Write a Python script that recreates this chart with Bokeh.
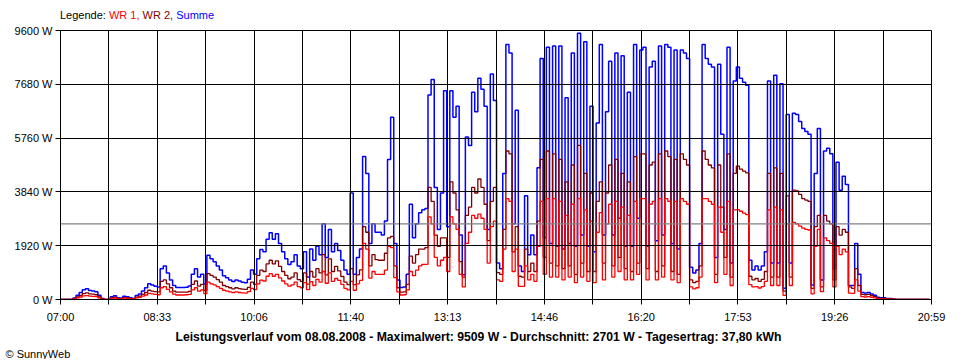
from bokeh.plotting import figure
from bokeh.layouts import column
from bokeh.models import (Range1d, FixedTicker, PrintfTickFormatter,
                          CustomJSTickFormatter, Span, Title, Div)
from bokeh.embed import file_html
from bokeh.resources import INLINE

# ---------------- data ----------------
interval_min = 3          # one sample every 3 minutes, starting 07:00
day_span_min = 839        # 07:00 .. 20:59

summe = [
    0, 0, 0, 0, 50, 150, 250, 350, 380, 320,
    300, 280, 150, 40, 0, 0, 100, 130, 60, 50,
    120, 100, 60, 40, 140, 200, 300, 420, 560, 520,
    470, 450, 1100, 1200, 950, 700, 500, 430, 430, 430,
    440, 480, 900, 1100, 800, 900, 550, 1580, 1450, 1350,
    1200, 1050, 850, 780, 700, 640, 700, 660, 620, 600,
    720, 1050, 900, 1450, 1780, 1700, 2150, 2380, 2150, 2350,
    2000, 1700, 1450, 1250, 1350, 1600, 1200, 1100, 1700, 800,
    1800, 1400, 1900, 1600, 2700, 1500, 2500, 1700, 2000, 1750,
    1400, 1050, 900, 3800, 900, 1500, 1800, 5100, 4500, 2000,
    2700, 2400, 2400, 2300, 2800, 5000, 6500, 2000, 700, 430,
    450, 900, 3400, 2200, 2700, 3100, 3200, 3250, 7300, 7850,
    4000, 2500, 3800, 7450, 2600, 7450, 6500, 6900, 2300, 880,
    5800, 5500, 7400, 6700, 7900, 7500, 6900, 2500, 8050, 7100,
    1300, 1100, 4500, 9100, 8800, 2700, 6750, 1200, 1000, 3700,
    1600, 2300, 1600, 4700, 8600, 2200, 9000, 2000, 9050, 1900,
    9050, 1800, 7200, 2000, 8800, 1900, 9500, 2300, 9200, 1900,
    6900, 1700, 6300, 9100, 2300, 6700, 8500, 2300, 8800, 2900,
    8700, 1900, 7400, 1900, 9100, 2900, 8900, 9000, 1900, 8300,
    8500, 2100, 9050, 2300, 9100, 9000, 2000, 8900, 1800, 8900,
    8800, 8600, 1150, 950, 1050, 2000, 9100, 8600, 8400, 8300,
    1500, 8400, 5900, 2500, 9000, 1300, 7800, 8300, 7900, 7750,
    7650, 1400, 1050, 1200, 1050, 1200, 1700, 7800, 1300, 8000,
    1300, 7700, 400, 6600, 1300, 6650, 6600, 6350, 6100, 6000,
    5900, 520, 4500, 6100, 700, 5300, 5400, 5200, 1100, 4900,
    3900, 4400, 4100, 500, 500, 2000, 900, 250, 230, 250,
    200, 150, 80, 60, 60, 40, 40, 20, 0, 0,
    0, 0, 0, 0, 0, 0, 0, 0, 0, 0,
]

wr2 = [
    0, 0, 0, 0, 30, 90, 150, 210, 240, 200,
    190, 170, 90, 25, 0, 0, 60, 80, 40, 30,
    70, 60, 40, 25, 85, 120, 180, 250, 330, 300,
    280, 270, 650, 700, 560, 420, 300, 260, 260, 260,
    260, 290, 540, 660, 480, 540, 330, 920, 860, 800,
    710, 620, 500, 460, 420, 380, 420, 390, 370, 360,
    430, 620, 540, 860, 1050, 1000, 1270, 1400, 1270, 1380,
    1180, 1000, 860, 740, 800, 950, 710, 650, 950, 550,
    1000, 800, 1100, 950, 1600, 880, 1450, 1000, 1180, 1020,
    820, 620, 530, 1100, 530, 880, 1060, 2600, 2400, 1200,
    1600, 1420, 1400, 1400, 1650, 2200, 2250, 1200, 420, 260,
    270, 540, 1550, 1300, 1600, 1800, 1800, 1850, 4000, 3500,
    2300, 1900, 2200, 2200, 1500, 4200, 3800, 3200, 1350, 800,
    3000, 3300, 4000, 3800, 4300, 4000, 3400, 2100, 3500, 4000,
    960, 900, 2500, 5300, 5200, 1700, 2600, 830, 800, 1800,
    1000, 1300, 1000, 2800, 5000, 1500, 5300, 1300, 5200, 1200,
    5000, 1100, 4200, 1200, 4800, 900, 5500, 1300, 4500, 1000,
    3800, 1000, 3500, 4200, 1300, 3800, 4800, 1200, 5000, 1500,
    4500, 1100, 4200, 1000, 5100, 1300, 5200, 5200, 1100, 4800,
    4900, 1000, 5200, 1200, 5300, 5100, 1000, 5000, 900, 5200,
    5000, 4800, 700, 600, 650, 1200, 5300, 5000, 4800, 4700,
    900, 4800, 3300, 1500, 5200, 800, 4500, 4760, 4650, 4580,
    4520, 830, 700, 750, 650, 720, 1000, 4500, 800, 4700,
    800, 4500, 300, 3700, 800, 3900, 3880, 3750, 3600, 3550,
    3500, 400, 2600, 3000, 450, 3000, 2800, 2700, 700, 2600,
    2300, 2500, 2400, 450, 400, 1100, 500, 180, 170, 180,
    150, 100, 50, 40, 40, 30, 30, 10, 0, 0,
    0, 0, 0, 0, 0, 0, 0, 0, 0, 0,
]

wr1 = [
    0, 0, 0, 0, 20, 60, 90, 130, 140, 120,
    110, 100, 60, 15, 0, 0, 40, 50, 20, 20,
    50, 40, 20, 15, 55, 80, 120, 160, 220, 200,
    180, 170, 420, 460, 360, 270, 190, 160, 160, 160,
    170, 180, 340, 420, 300, 340, 210, 620, 560, 520,
    460, 400, 330, 300, 270, 250, 270, 250, 240, 230,
    280, 400, 350, 560, 690, 660, 830, 920, 830, 900,
    770, 660, 560, 480, 520, 620, 460, 420, 600, 350,
    640, 500, 720, 620, 1000, 580, 950, 650, 750, 680,
    540, 400, 340, 650, 330, 560, 680, 2000, 1800, 760,
    1000, 900, 900, 900, 1050, 1900, 1850, 780, 270, 160,
    170, 340, 1000, 850, 1050, 1200, 1250, 1250, 2950, 2700,
    1500, 1200, 1400, 1500, 1000, 2950, 2700, 2500, 900, 450,
    2000, 2400, 3000, 2900, 3050, 2900, 2500, 1300, 2600, 2800,
    700, 650, 1800, 3600, 3500, 1000, 1800, 470, 470, 1200,
    700, 900, 650, 1900, 3500, 900, 3600, 800, 3600, 800,
    3500, 700, 3000, 800, 3400, 600, 3600, 800, 3200, 650,
    2800, 600, 2400, 3100, 700, 2700, 3400, 800, 3500, 1000,
    3300, 700, 3000, 700, 3500, 900, 3600, 3600, 700, 3400,
    3500, 700, 3600, 800, 3600, 3500, 700, 3500, 600, 3600,
    3500, 3400, 450, 380, 420, 800, 3600, 3600, 3500, 3400,
    600, 3300, 2400, 900, 3500, 500, 3200, 3210, 3150, 3080,
    3030, 530, 450, 460, 410, 460, 650, 3200, 500, 3300,
    500, 3200, 150, 2700, 500, 2750, 2700, 2620, 2550, 2500,
    2480, 200, 1900, 2500, 280, 2200, 2100, 2000, 450, 1900,
    1600, 1800, 1700, 230, 220, 700, 300, 100, 90, 100,
    80, 60, 30, 20, 20, 10, 10, 0, 0, 0,
    0, 0, 0, 0, 0, 0, 0, 0, 0, 0,
]

minutes = [k * interval_min for k in range(len(summe))]

tick_labels = ["07:00", "08:33", "10:06", "11:40", "13:13",
               "14:46", "16:20", "17:53", "19:26", "20:59"]
y_ticks = [0, 1920, 3840, 5760, 7680, 9600]

series_names = ["WR 1", "WR 2", "Summe"]
datum = "08.08.2008"
maximalwert = 9509
durchschnitt = 2701
tagesertrag = "37,80"

# ---------------- styling ----------------
FONT = "Liberation Sans"
C_WR1 = "#FF0000"
C_WR2 = "#800000"
C_SUM = "#0000FF"

legend_html = (
    f'<span style="color:black">Legende: </span>'
    f'<span style="color:{C_WR1}">{series_names[0]},</span> '
    f'<span style="color:{C_WR2}">{series_names[1]},</span> '
    f'<span style="color:{C_SUM}">{series_names[2]}</span>'
)
legend_div = Div(text=legend_html, width=880, height=13, margin=(9, 0, 0, 60),
                 styles={"font-family": FONT, "font-size": "11px",
                         "line-height": "13px", "white-space": "nowrap",
                         "color": "black"})

p = figure(width=952, height=337,
           x_range=Range1d(0, day_span_min), y_range=Range1d(0, 9600),
           output_backend="svg", toolbar_location=None,
           min_border_left=60, min_border_right=21,
           min_border_top=8, min_border_bottom=60,
           background_fill_color="white", border_fill_color="white")

p.step(minutes, summe, mode="after", line_color=C_SUM, line_width=1.5)
p.step(minutes, wr2, mode="after", line_color=C_WR2, line_width=1.3)
p.step(minutes, wr1, mode="after", line_color=C_WR1, line_width=1.3)

p.add_layout(Span(location=durchschnitt, dimension="width",
                  line_color="#808080", line_width=1.2))

n_div = 18
p.xaxis.ticker = FixedTicker(ticks=[k * day_span_min / n_div for k in range(n_div + 1)])
p.xaxis.formatter = CustomJSTickFormatter(
    args=dict(labels=tick_labels, step=day_span_min / n_div),
    code="const i = Math.round(tick / step); return (i % 2 == 0) ? labels[i / 2] : '';")
p.yaxis.ticker = FixedTicker(ticks=y_ticks)
p.yaxis.formatter = PrintfTickFormatter(format="%d W")

for ax in (p.xaxis[0], p.yaxis[0]):
    ax.axis_line_color = "black"
    ax.major_tick_line_color = "black"
    ax.major_tick_out = 5
    ax.major_tick_in = 0
    ax.minor_tick_line_color = None
    ax.major_label_text_font = FONT
    ax.major_label_text_font_size = "11px"
    ax.major_label_text_color = "black"
p.xaxis.major_label_standoff = 6
p.yaxis.major_label_standoff = 3

for g in (p.xgrid[0], p.ygrid[0]):
    g.grid_line_color = "black"
    g.grid_line_alpha = 1.0
    g.grid_line_width = 1
    g.level = "overlay"

p.outline_line_color = "black"
p.outline_line_alpha = 1.0

title_text = (f"Leistungsverlauf vom {datum} - Maximalwert: {maximalwert} W - "
              f"Durchschnitt: {durchschnitt} W - Tagesertrag: {tagesertrag} kWh")
p.add_layout(Title(text=title_text, align="left", offset=115, standoff=4,
                   text_font=FONT, text_font_size="12.2px", text_font_style="bold",
                   text_color="black"), "below")
p.add_layout(Title(text="\u00a9 SunnyWeb", align="left", offset=-55, standoff=0,
                   text_font=FONT, text_font_size="11px", text_font_style="normal",
                   text_color="black"), "below")

layout = column(legend_div, p, margin=(0, 0, 0, 0), spacing=0)

open("out.html", "w").write(file_html(layout, INLINE))
